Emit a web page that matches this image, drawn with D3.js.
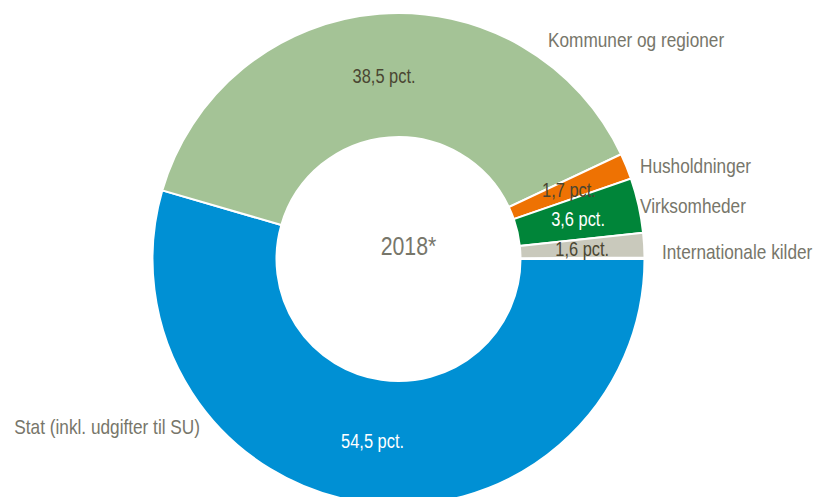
<!DOCTYPE html>
<html>
<head>
<meta charset="utf-8">
<script src="https://cdn.jsdelivr.net/npm/d3@7"></script>
<style>
  body { margin: 0; background: #fff; }
  svg text { font-family: "Liberation Sans Narrow", "Arial Narrow", "Liberation Sans", Arial, sans-serif; }
</style>
</head>
<body>
<svg id="chart" width="816" height="497"></svg>
<script>
// data
let categories = ["Stat (inkl. udgifter til SU)", "Kommuner og regioner", "Husholdninger", "Virksomheder", "Internationale kilder"];
let shares = [54.5, 38.5, 1.7, 3.6, 1.6];
let valueLabels = ["54,5 pct.", "38,5 pct.", "1,7 pct.", "3,6 pct.", "1,6 pct."];
let colors = ["#0090d4", "#a4c396", "#ee7203", "#008539", "#c9c9bc"];
let valueTextColors = ["#ffffff", "#4a4632", "#4a4632", "#ffffff", "#4a4632"];
let centerLabel = "2018*";

let svg = d3.select("#chart");
let cx = 398.5, cy = 259;
let outerR = 246, innerR = 122;

let g = svg.append("g").attr("transform", "translate(" + cx + "," + cy + ")");

let pie = d3.pie().sort(null)
    .startAngle(Math.PI / 2)
    .endAngle(Math.PI / 2 + 2 * Math.PI * d3.sum(shares) / 100);
let arcs = pie(shares);

let arc = d3.arc().innerRadius(innerR).outerRadius(outerR);

g.selectAll("path.slice")
    .data(arcs)
    .enter().append("path")
    .attr("class", "slice")
    .attr("d", arc)
    .attr("fill", (d, i) => colors[i])
    .attr("stroke", "#fff")
    .attr("stroke-width", 2);

// value labels at the middle of each ring segment
g.selectAll("text.val")
    .data(arcs)
    .enter().append("text")
    .attr("class", "val")
    .attr("transform", d => "translate(" + arc.centroid(d) + ")")
    .attr("text-anchor", "middle")
    .attr("dy", "0.35em")
    .attr("font-size", 20)
    .attr("fill", (d, i) => valueTextColors[i])
    .text((d, i) => valueLabels[i]);

// category labels outside the ring (hand placed, like the original)
let outerPos = [[200, 427, "end"], [548, 40, "start"], [640, 166, "start"], [640, 206, "start"], [662, 252, "start"]];
svg.selectAll("text.cat")
    .data(categories)
    .enter().append("text")
    .attr("class", "cat")
    .attr("x", (d, i) => outerPos[i][0])
    .attr("y", (d, i) => outerPos[i][1])
    .attr("dy", "0.35em")
    .attr("text-anchor", (d, i) => outerPos[i][2])
    .attr("font-size", 21)
    .attr("fill", "#77766a")
    .text(d => d);

g.append("text")
    .attr("x", 10)
    .attr("y", -13)
    .attr("dy", "0.35em")
    .attr("text-anchor", "middle")
    .attr("font-size", 26)
    .attr("fill", "#77766a")
    .text(centerLabel);

// no narrow font installed: squeeze the text to look like Arial Narrow
svg.selectAll("text").each(function() {
    let len = this.getComputedTextLength();
    d3.select(this).attr("textLength", len * 0.82).attr("lengthAdjust", "spacingAndGlyphs");
});
</script>
</body>
</html>
